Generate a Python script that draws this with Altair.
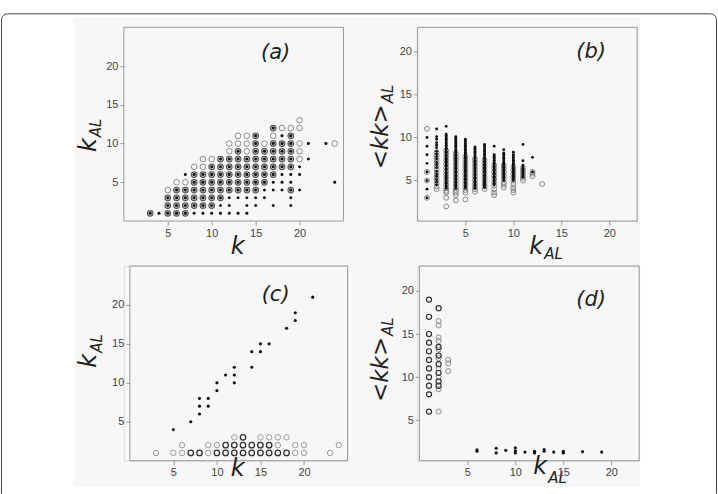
import altair as alt
import pandas as pd

# ---------------- data ----------------
# panel (a): k_AL value -> list of k values, by marker kind
a_open = {4: [5], 5: [6, 7], 7: [8, 9], 8: [9, 10, 20], 9: [12, 14, 20],
          10: [12, 13, 14, 16, 20, 24], 11: [13, 14, 17], 12: [18, 19, 20], 13: [20]}
a_both = {1: [3, 5, 6, 7], 2: [5, 6, 7, 8, 9, 10], 3: [5, 6, 7, 8, 9, 10, 11],
          4: [6, 7, 8, 9, 10, 11, 12, 13, 14, 15, 19], 5: [8, 9, 10, 11, 12, 13, 14, 15, 16],
          6: [8, 9, 10, 11, 12, 13, 14, 15, 16, 17], 7: [10, 11, 12, 13, 14, 15, 16, 17, 18, 19],
          8: [11, 12, 13, 14, 15, 16, 17, 18, 19], 9: [13, 15, 16, 17, 18, 19],
          10: [15, 17, 18, 19], 11: [15, 19], 12: [17]}
a_dot = {1: [4, 8, 9, 10, 11, 12, 13, 14], 2: [11, 12, 14, 15, 17, 19], 3: [12, 13, 14, 15, 16, 19],
         4: [16, 17, 18, 20], 5: [17, 18, 19, 24], 6: [7, 18, 19, 20], 7: [20], 8: [21],
         10: [21, 23], 11: [18]}

# panel (b): k_AL column -> list of <kk>_AL values
b_dot = {
    1: [10.0, 9.0, 8.0, 7.0, 6.0, 5.0, 4.0, 3.0],
    2: [11.0, 10.1, 9.8, 9.4, 9.1, 8.8, 8.4, 8.1, 7.8, 7.5, 7.1, 6.8, 6.5, 6.1, 5.8, 5.5, 5.1, 4.8, 4.5],
    3: [11.3, 10.4, 10.25, 10.1, 9.9, 9.75, 9.6, 9.4, 9.25, 9.1, 8.9, 8.75, 8.6, 8.4, 8.25, 8.1, 7.9,
        7.75, 7.6, 7.4, 7.25, 7.1, 6.9, 6.75, 6.6, 6.4, 6.25, 6.1, 5.9, 5.75, 5.6, 5.4, 5.25, 5.1,
        4.9, 4.75, 4.6, 4.4, 4.25, 4.1],
    4: [10.1, 9.95, 9.8, 9.6, 9.45, 9.3, 9.1, 8.95, 8.8, 8.6, 8.45, 8.3, 8.1, 7.95, 7.8, 7.6, 7.45,
        7.3, 7.1, 6.95, 6.8, 6.6, 6.45, 6.3, 6.1, 5.95, 5.8, 5.6, 5.45, 5.3, 5.1, 4.95, 4.8, 4.6,
        4.45, 4.3, 4.1],
    5: [9.8, 9.65, 9.5, 9.3, 9.15, 9.0, 8.8, 8.65, 8.5, 8.3, 8.15, 8.0, 7.8, 7.65, 7.5, 7.3, 7.15,
        7.0, 6.8, 6.65, 6.5, 6.3, 6.15, 6.0, 5.8, 5.65, 5.5, 5.3, 5.15, 5.0, 4.8, 4.65, 4.5, 4.3, 4.15],
    6: [8.9, 8.75, 8.6, 8.4, 8.25, 8.1, 7.9, 7.75, 7.6, 7.4, 7.25, 7.1, 6.9, 6.75, 6.6, 6.4, 6.25,
        6.1, 5.9, 5.75, 5.6, 5.4, 5.25, 5.1, 4.9, 4.75, 4.6, 4.4, 4.25, 4.1],
    7: [9.2, 9.05, 8.9, 8.7, 8.55, 8.4, 8.2, 8.05, 7.9, 7.7, 7.55, 7.4, 7.2, 7.05, 6.9, 6.7, 6.55,
        6.4, 6.2, 6.05, 5.9, 5.7, 5.55, 5.4, 5.2, 5.05, 4.9, 4.7, 4.55, 4.4, 4.2],
    8: [9.0, 8.0, 7.85, 7.7, 7.5, 7.35, 7.2, 7.0, 6.85, 6.7, 6.5, 6.35, 6.2, 6.0, 5.85, 5.7, 5.5,
        5.35, 5.2, 5.0, 4.85, 4.7, 4.5],
    9: [8.6, 8.2, 8.05, 7.9, 7.7, 7.55, 7.4, 7.2, 7.05, 6.9, 6.7, 6.55, 6.4, 6.2, 6.05, 5.9, 5.7,
        5.55, 5.4, 5.2, 5.0],
    10: [8.3, 8.0, 7.85, 7.7, 7.5, 7.35, 7.2, 7.0, 6.85, 6.7, 6.5, 6.35, 6.2, 6.0, 5.85, 5.7, 5.5,
         5.35, 5.2, 5.0],
    11: [9.2, 7.3, 6.8, 6.6, 6.4, 6.2, 6.0, 5.8, 5.6, 5.4],
    12: [7.7, 6.0],
}
b_circle = {
    1: [11.0, 6.0, 5.0, 3.0],
    2: [8.3, 7.9, 7.5, 7.1, 6.7, 6.3, 5.9, 5.5, 5.1, 4.7, 4.3, 4.0],
    3: [8.5, 8.1, 7.7, 7.3, 6.9, 6.5, 6.1, 5.7, 5.3, 4.9, 4.5, 4.1, 3.8, 3.6, 3.0, 2.0],
    4: [8.2, 7.8, 7.4, 7.0, 6.6, 6.2, 5.8, 5.4, 5.0, 4.6, 4.2, 3.9, 3.6, 3.3, 2.7],
    5: [7.8, 7.4, 7.0, 6.6, 6.2, 5.8, 5.4, 5.0, 4.6, 4.2, 3.9, 3.6, 2.8],
    6: [7.5, 7.1, 6.7, 6.3, 5.9, 5.5, 5.1, 4.7, 4.3, 4.0, 3.7],
    7: [7.4, 7.0, 6.6, 6.2, 5.8, 5.4, 5.0, 4.6, 4.3, 4.0],
    8: [6.8, 6.4, 6.0, 5.6, 5.2, 4.8, 4.4, 4.0, 3.6, 3.3],
    9: [6.8, 6.4, 6.0, 5.6, 5.2, 4.8, 4.5, 4.2],
    10: [6.6, 6.2, 5.8, 5.4, 5.0, 4.6, 4.2, 3.9, 3.6],
    11: [6.5, 6.2, 5.9, 5.6, 5.3, 5.0],
    12: [6.0, 5.8, 5.5],
    13: [4.6],
}

# panel (c)
c_dot_k = [5, 7, 8, 8, 8, 9, 9, 10, 10, 11, 12, 12, 12, 14, 14, 15, 15, 16, 18, 19, 19, 21]
c_dot_kal = [4, 5, 6, 7, 8, 7, 8, 9, 10, 11, 10, 11, 12, 12, 14, 14, 15, 15, 17, 18, 19, 21]
c_dark = {1: [7, 8, 10, 11, 12, 13, 14, 15, 16, 17, 18], 2: [11, 12, 13, 14, 15, 16], 3: [13]}
c_light = {1: [3, 5, 6, 9, 19, 20, 23], 2: [6, 9, 10, 17, 19, 20, 24], 3: [12, 15, 16, 17, 18]}

# panel (d): k_AL column -> list of <kk>_AL values
d_dark = {1: [19, 17, 15, 14, 13, 12, 11, 10, 9, 8, 6], 2: [18.0, 13.5, 12.5, 11.5, 10.5, 9.5, 9.0]}
d_light = {2: [16.5, 16.0, 14.6, 14.2, 13.2, 12.2, 11.0, 10.0, 8.6, 6.0], 3: [12.0, 11.6, 10.7]}
d_dot = {6: [1.55, 1.4], 8: [1.75, 1.2], 9: [1.5], 10: [1.8, 1.45, 1.2], 11: [1.3], 12: [1.4, 1.2],
         13: [1.6, 1.4], 14: [1.3], 15: [1.4, 1.2], 17: [1.35], 19: [1.3]}

tick_values = [5, 10, 15, 20]


def by_row(d):
    return pd.DataFrame({"k": [k for v, ks in d.items() for k in ks],
                         "v": [v for v, ks in d.items() for k in ks]})


def by_col(d):
    return pd.DataFrame({"k": [k for k, vs in d.items() for v in vs],
                         "v": [v for k, vs in d.items() for v in vs]})


FONT = "DejaVu Sans"
ONE = alt.Data(values=[{}])


def axis(offset=0):
    return alt.Axis(values=tick_values, tickSize=4, tickColor="#999", tickWidth=1, domain=False,
                    grid=False, labelFont="Liberation Sans", labelFontSize=11, labelColor="#444",
                    labelPadding=2, title=None, zindex=1, offset=offset)


def points(df, xs, ys, yoff, **mk):
    return alt.Chart(df).mark_point(shape="circle", opacity=1, **mk).encode(
        x=alt.X("k:Q", scale=xs, axis=axis()),
        y=alt.Y("v:Q", scale=ys, axis=axis(yoff)),
    )


def txt(s, x, y, size, angle=0, align="center"):
    mk = dict(text=s, fontSize=size, font=FONT, fontStyle="italic", color="#222",
              align=align, baseline="alphabetic")
    if angle:
        mk["angle"] = angle
    return alt.Chart(ONE).mark_text(**mk).encode(x=alt.value(x), y=alt.value(y))


def frame(x0, x1, h):
    return alt.Chart(ONE).mark_rect(fillOpacity=0, stroke="#9a9a9a", strokeWidth=1).encode(
        x=alt.value(x0), x2=alt.value(x1), y=alt.value(0), y2=alt.value(h))


def open_c(df, xs, ys, yoff, color, sw=1.0, size=30):
    return points(df, xs, ys, yoff, filled=False, stroke=color, strokeWidth=sw, size=size)


def dots(df, xs, ys, yoff, size=9):
    return points(df, xs, ys, yoff, filled=True, fill="#111", strokeOpacity=0, size=size)


# ---------------- panel (a) ----------------
W_A, H1 = 220, 194
xs_a = alt.Scale(domain=[0, 25], range=[0, 220], nice=False, zero=False)
ys_a = alt.Scale(domain=[0, 25], nice=False, zero=False)

bg = alt.Chart(ONE).mark_rect(fill="#f7f7f7").encode(
    x=alt.value(-50), x2=alt.value(517), y=alt.value(-10), y2=alt.value(460))
outer = alt.Chart(ONE).mark_rect(fillOpacity=0, stroke="#444", strokeWidth=1,
                                 cornerRadiusTopLeft=6, cornerRadiusTopRight=6).encode(
    x=alt.value(-122.5), x2=alt.value(593.5), y=alt.value(-13.5), y2=alt.value(467))
cover = alt.Chart(ONE).mark_rule(color="white", strokeWidth=2).encode(
    x=alt.value(-122), x2=alt.value(593), y=alt.value(467))

panel_a = alt.layer(
    bg, outer, cover, frame(0, 220, H1),
    open_c(by_row(a_open), xs_a, ys_a, 0, "#8a8a8a", 1.0, 32),
    points(by_row(a_both), xs_a, ys_a, 0, filled=True, fill="#bcbcbc", stroke="#555",
           strokeWidth=1.1, size=32),
    dots(by_row(a_both), xs_a, ys_a, 0, 9),
    dots(by_row(a_dot), xs_a, ys_a, 0, 9),
    txt("(a)", 152, 32, 21),
    txt("k", 114, 227, 24),
    txt("k", -28, 111, 24, angle=270, align="right"),
    txt("AL", -23, 110, 15, angle=270, align="left"),
).properties(width=W_A, height=H1)

# ---------------- panel (b) ----------------
xs_b = alt.Scale(domain=[0, 22.9], range=[0, 220], nice=False, zero=False)
ys_b = alt.Scale(domain=[0.3, 22.8], nice=False, zero=False)
panel_b = alt.layer(
    frame(0, 220, H1),
    open_c(by_col(b_circle), xs_b, ys_b, 0, "#7a7a7a", 0.9, 24),
    dots(by_col(b_dot), xs_b, ys_b, 0, 8),
    txt("(b)", 174, 31, 21),
    txt("k", 126, 227, 24, align="right"),
    txt("AL", 127, 232, 15, align="left"),
    txt("<kk>", -29, 77, 23, angle=270, align="right"),
    txt("AL", -24, 76, 15, angle=270, align="left"),
).properties(width=220, height=H1)

# ---------------- panel (c) ----------------
H2 = 195
xs_c = alt.Scale(domain=[0, 25], range=[6, 224], nice=False, zero=False)
ys_c = alt.Scale(domain=[0, 25], nice=False, zero=False)
c_dot_df = pd.DataFrame({"k": c_dot_k, "v": c_dot_kal})
panel_c = alt.layer(
    frame(6, 224, H2),
    open_c(by_row(c_light), xs_c, ys_c, -6, "#9a9a9a", 1.0, 30),
    open_c(by_row(c_dark), xs_c, ys_c, -6, "#333", 1.3, 30),
    dots(c_dot_df, xs_c, ys_c, -6, 10),
    txt("(c)", 152, 35, 21),
    txt("k", 114, 210, 24),
    txt("k", -28, 88, 24, angle=270, align="right"),
    txt("AL", -22, 87, 15, angle=270, align="left"),
).properties(width=224, height=H2)

# ---------------- panel (d) ----------------
xs_d = alt.Scale(domain=[0, 22.9], range=[2, 222], nice=False, zero=False)
ys_d = alt.Scale(domain=[0.3, 22.9], nice=False, zero=False)
panel_d = alt.layer(
    frame(2, 222, H2),
    open_c(by_col(d_light), xs_d, ys_d, -2, "#8a8a8a", 1.0, 26),
    open_c(by_col(d_dark), xs_d, ys_d, -2, "#333", 1.2, 26),
    dots(by_col(d_dot), xs_d, ys_d, -2, 10),
    txt("(d)", 174, 40, 21),
    txt("k", 130, 208, 24, align="right"),
    txt("AL", 131, 217, 15, align="left"),
    txt("<kk>", -29, 71, 23, angle=270, align="right"),
    txt("AL", -24, 70, 15, angle=270, align="left"),
).properties(width=222, height=H2)

chart = alt.concat(
    panel_a, panel_b, panel_c, panel_d,
    columns=2, spacing={"row": 45, "column": 70}, bounds="flush", align="each",
).properties(
    padding={"left": 0, "top": 12, "right": 0, "bottom": 0}
).configure_view(stroke=None).configure(background="white")

chart.save("out.html", embed_options={"renderer": "svg", "actions": False})
